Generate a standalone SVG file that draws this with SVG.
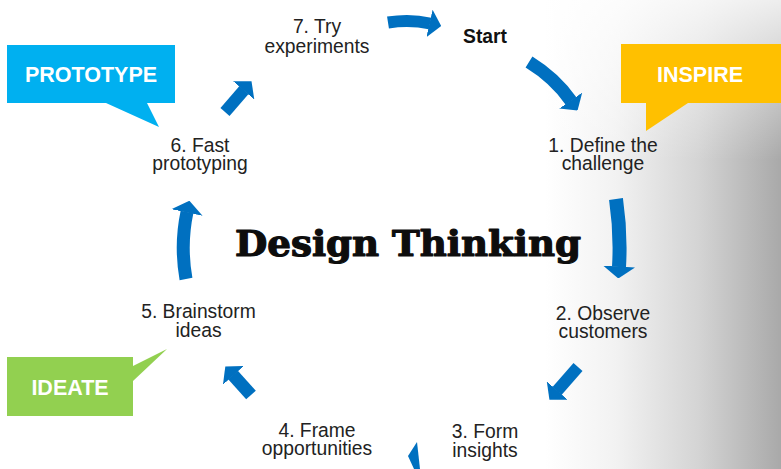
<svg xmlns="http://www.w3.org/2000/svg" width="781" height="469" viewBox="0 0 781 469">
  <defs>
    <linearGradient id="bgH" x1="545" y1="0" x2="781" y2="0" gradientUnits="userSpaceOnUse">
      <stop offset="0" stop-color="#ffffff"/>
      <stop offset="0.3" stop-color="#f2f2f2"/>
      <stop offset="0.65" stop-color="#d4d4d4"/>
      <stop offset="1" stop-color="#a9a9a9"/>
    </linearGradient>
    <linearGradient id="bgV" x1="0" y1="0" x2="0" y2="160" gradientUnits="userSpaceOnUse">
      <stop offset="0" stop-color="#ffffff" stop-opacity="0.8"/>
      <stop offset="1" stop-color="#ffffff" stop-opacity="0"/>
    </linearGradient>
    <marker id="head" markerUnits="userSpaceOnUse" viewBox="0 0 12 28" refX="0.5" refY="14" markerWidth="12" markerHeight="28" orient="auto">
      <path d="M0,0 L12,14 L0,28 Z" fill="#0070C0"/>
    </marker>
    <marker id="headL" markerUnits="userSpaceOnUse" viewBox="0 0 12 32" refX="0.5" refY="16" markerWidth="12" markerHeight="32" orient="auto">
      <path d="M0,0 L12,16 L0,32 Z" fill="#0070C0"/>
    </marker>
  </defs>
  <style>
    .lbl { font-family: "Liberation Sans", Arial, sans-serif; font-size: 19.3px; fill: #222222; text-anchor: middle; }
    .start { font-family: "Liberation Sans", Arial, sans-serif; font-size: 19.3px; font-weight: bold; fill: #111111; text-anchor: middle; }
    .call { font-family: "Liberation Sans", Arial, sans-serif; font-size: 21.5px; font-weight: bold; fill: #ffffff; text-anchor: middle; }
    .title { font-family: "DejaVu Serif", "Liberation Serif", serif; font-size: 35px; font-weight: bold; fill: #0d0d0d; stroke: #0d0d0d; stroke-width: 1.2px; stroke-linejoin: round; }
    .arr { fill: none; stroke: #0070C0; stroke-linecap: butt; marker-end: url(#head); }
    .arrL { fill: none; stroke: #0070C0; stroke-linecap: butt; marker-end: url(#headL); }
  </style>

  <rect x="0" y="0" width="781" height="469" fill="#ffffff"/>
  <rect x="545" y="0" width="236" height="469" fill="url(#bgH)"/>
  <rect x="545" y="0" width="236" height="160" fill="url(#bgV)"/>

  <g id="connectors">
    <path class="arr" stroke-width="12" d="M388,22.5 Q410,19 430,23.5"/>
    <path class="arr" stroke-width="13" d="M529,62 Q555,78 571,101"/>
    <path class="arrL" stroke-width="14" d="M616,199 Q621,233 619,267"/>
    <path class="arr" stroke-width="12" d="M578,367 L557,391"/>
    <path d="M417,442 L408,456 L414,469 L420,469 L419,460 Z" fill="#0070C0"/>
    <path class="arr" stroke-width="13" d="M251,395 L233,375"/>
    <path class="arrL" stroke-width="13" d="M186,279 Q180,245 187,212"/>
    <path class="arr" stroke-width="12" d="M225,112 L244,90"/>
  </g>

  <g id="title">
    <text class="title" x="235" y="256" textLength="346" lengthAdjust="spacingAndGlyphs">Design Thinking</text>
  </g>

  <g id="start">
    <text class="start" x="485" y="43">Start</text>
  </g>
  <g id="step1">
    <text class="lbl" x="603" y="152">1. Define the</text>
    <text class="lbl" x="603" y="170">challenge</text>
  </g>
  <g id="step2">
    <text class="lbl" x="603" y="320">2. Observe</text>
    <text class="lbl" x="603" y="338">customers</text>
  </g>
  <g id="step3">
    <text class="lbl" x="485" y="438">3. Form</text>
    <text class="lbl" x="485" y="457">insights</text>
  </g>
  <g id="step4">
    <text class="lbl" x="317" y="437">4. Frame</text>
    <text class="lbl" x="317" y="455">opportunities</text>
  </g>
  <g id="step5">
    <text class="lbl" x="198.5" y="318">5. Brainstorm</text>
    <text class="lbl" x="198.5" y="337">ideas</text>
  </g>
  <g id="step6">
    <text class="lbl" x="200" y="152">6. Fast</text>
    <text class="lbl" x="200" y="170">prototyping</text>
  </g>
  <g id="step7">
    <text class="lbl" x="317" y="33">7. Try</text>
    <text class="lbl" x="317" y="53">experiments</text>
  </g>

  <g id="callout-prototype">
    <path d="M7,45 H175 V103 H147 L159,127 L106,103 H7 Z" fill="#00B0F0"/>
    <text class="call" x="91" y="82">PROTOTYPE</text>
  </g>
  <g id="callout-inspire">
    <path d="M621,44 H781 V103 H688 L646,131 V103 H621 Z" fill="#FFC000"/>
    <text class="call" x="700" y="82">INSPIRE</text>
  </g>
  <g id="callout-ideate">
    <path d="M7,357 H133 V366 L167,349 L133,381 V416 H7 Z" fill="#92D050"/>
    <text class="call" x="70" y="395">IDEATE</text>
  </g>
</svg>
